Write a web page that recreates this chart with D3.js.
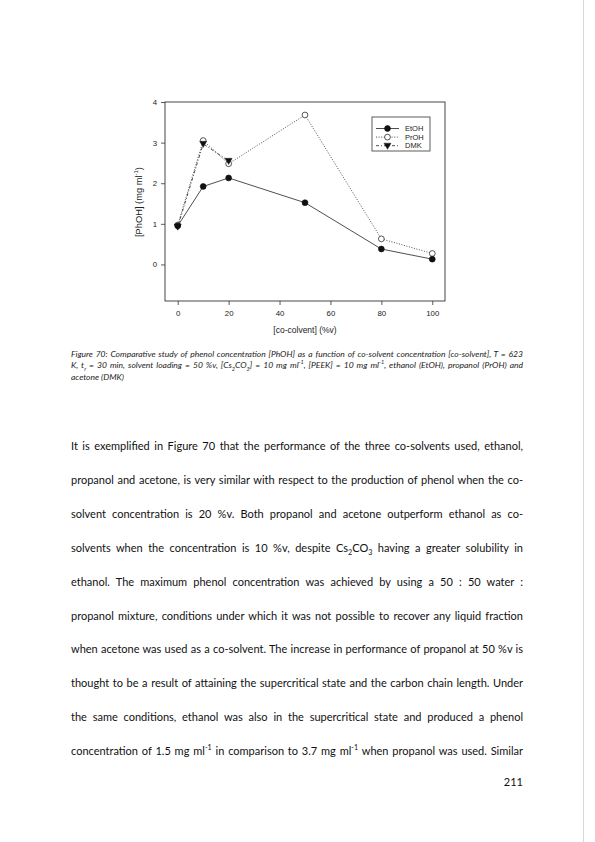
<!DOCTYPE html>
<html>
<head>
<meta charset="utf-8">
<script src="https://cdn.jsdelivr.net/npm/d3@7"></script>
<style>
  body { margin: 0; background: #fff; }
  #page { position: relative; width: 595px; height: 842px; overflow: hidden; }
  #page svg { position: absolute; left: 0; top: 0; }
  .line { position: absolute; left: 71px; width: 452px; font-family: Lato, "Open Sans", sans-serif;
          font-size: 11px; color: #111; text-align: justify; text-align-last: justify; white-space: nowrap; }
  .cap { position: absolute; left: 71px; width: 452px; font-family: Lato, sans-serif; font-style: italic;
         font-size: 8.5px; color: #222; text-align: justify; text-align-last: justify; white-space: nowrap; }
  .cap.last { text-align-last: left; }
  sup, sub { font-size: 65%; line-height: 0; }
</style>
</head>
<body>
<div id="page"></div>
<script>
// values
const coSolvent = [0, 10, 20, 50, 80, 100];
const etoh = [0.95, 1.92, 2.13, 1.52, 0.38, 0.13];
const proh = [0.97, 3.05, 2.48, 3.68, 0.63, 0.27];
const dmkCoSolvent = [0, 10, 20];
const dmk = [0.93, 2.97, 2.55];
const seriesNames = ["EtOH", "PrOH", "DMK"];
const xTicks = [0, 20, 40, 60, 80, 100];
const yTicks = [0, 1, 2, 3, 4];

const captionLines = [
  "Figure 70: Comparative study of phenol concentration [PhOH] as a function of co-solvent concentration [co-solvent], T = 623",
  "K, t<sub>r</sub> = 30 min, solvent loading = 50 %v, [Cs<sub>2</sub>CO<sub>3</sub>] = 10 mg ml<sup>-1</sup>, [PEEK] = 10 mg ml<sup>-1</sup>, ethanol (EtOH), propanol (PrOH) and",
  "acetone (DMK)"
];
const bodyLines = [
  "It is exemplified in Figure 70 that the performance of the three co-solvents used, ethanol,",
  "propanol and acetone, is very similar with respect to the production of phenol when the co-",
  "solvent concentration is 20 %v. Both propanol and acetone outperform ethanol as co-",
  "solvents when the concentration is 10 %v, despite Cs<sub>2</sub>CO<sub>3</sub> having a greater solubility in",
  "ethanol. The maximum phenol concentration was achieved by using a 50 : 50 water :",
  "propanol mixture, conditions under which it was not possible to recover any liquid fraction",
  "when acetone was used as a co-solvent. The increase in performance of propanol at 50 %v is",
  "thought to be a result of attaining the supercritical state and the carbon chain length. Under",
  "the same conditions, ethanol was also in the supercritical state and produced a phenol",
  "concentration of 1.5 mg ml<sup>-1</sup> in comparison to 3.7 mg ml<sup>-1</sup> when propanol was used. Similar"
];

const page = d3.select("#page");
const svg = page.append("svg").attr("width", 595).attr("height", 842);

// page edge
svg.append("line").attr("x1", 583.5).attr("x2", 583.5).attr("y1", 0).attr("y2", 842)
  .attr("stroke", "#d8d8d8").attr("stroke-width", 1);

const plot = { left: 165, top: 102, right: 445, bottom: 301 };
const x = d3.scaleLinear().domain([-5, 105]).range([plot.left, plot.right]);
const y = d3.scaleLinear().domain([-0.9, 4]).range([plot.bottom, plot.top]);

const chart = svg.append("g").style("font-family", "'Liberation Sans', Arial, sans-serif");

chart.append("g")
  .attr("transform", "translate(0," + plot.bottom + ")")
  .call(d3.axisBottom(x).tickValues(xTicks).tickFormat(d3.format("d")).tickSize(4).tickSizeOuter(0).tickPadding(5))
  .call(g => g.select(".domain").remove())
  .call(g => g.selectAll("text").attr("font-size", 7.8).attr("fill", "#222").attr("font-family", null));

chart.append("g")
  .attr("transform", "translate(" + plot.left + ",0)")
  .call(d3.axisLeft(y).tickValues(yTicks).tickFormat(d3.format("d")).tickSize(4).tickSizeOuter(0).tickPadding(4))
  .call(g => g.select(".domain").remove())
  .call(g => g.selectAll("text").attr("font-size", 7.8).attr("fill", "#222").attr("font-family", null));

chart.selectAll(".tick line").attr("stroke", "#333").attr("stroke-width", 0.8);

chart.append("rect")
  .attr("x", plot.left).attr("y", plot.top)
  .attr("width", plot.right - plot.left).attr("height", plot.bottom - plot.top)
  .attr("fill", "none").attr("stroke", "#333").attr("stroke-width", 0.9);

const styles = {
  EtOH: { dash: null, marker: "circle", fill: "#111" },
  PrOH: { dash: "1,1.6", marker: "circle", fill: "#fff" },
  DMK: { dash: "3,2,1,2", marker: "triangle", fill: "#111" }
};

const series = [
  { name: "PrOH", points: coSolvent.map((c, i) => [c, proh[i]]) },
  { name: "DMK", points: dmkCoSolvent.map((c, i) => [c, dmk[i]]) },
  { name: "EtOH", points: coSolvent.map((c, i) => [c, etoh[i]]) }
];

const line = d3.line().x(d => x(d[0])).y(d => y(d[1]));
const triangle = d3.symbol().type(d3.symbolTriangle).size(22);

function drawMarker(g, name, cx, cy) {
  const s = styles[name];
  if (s.marker === "circle") {
    g.append("circle").attr("cx", cx).attr("cy", cy).attr("r", 2.9)
      .attr("fill", s.fill).attr("stroke", "#111").attr("stroke-width", 0.7);
  } else {
    g.append("path").attr("d", triangle)
      .attr("transform", "translate(" + cx + "," + (cy - 0.5) + ") rotate(180)")
      .attr("fill", s.fill).attr("stroke", "#111").attr("stroke-width", 0.4);
  }
}

series.forEach(sr => {
  const s = styles[sr.name];
  chart.append("path")
    .datum(sr.points)
    .attr("fill", "none")
    .attr("stroke", "#222")
    .attr("stroke-width", 0.8)
    .attr("stroke-dasharray", s.dash)
    .attr("d", line);
});
series.forEach(sr => {
  const g = chart.append("g");
  sr.points.forEach(p => drawMarker(g, sr.name, x(p[0]), y(p[1])));
});

// legend
const legend = chart.append("g");
legend.append("rect").attr("x", 372).attr("y", 117).attr("width", 58).attr("height", 34)
  .attr("fill", "#fff").attr("stroke", "#333").attr("stroke-width", 0.8);
seriesNames.forEach((name, i) => {
  const ly = 128.5 + i * 8.6;
  legend.append("line").attr("x1", 376).attr("x2", 399).attr("y1", ly).attr("y2", ly)
    .attr("stroke", "#222").attr("stroke-width", 0.8).attr("stroke-dasharray", styles[name].dash);
  drawMarker(legend, name, 387.5, ly);
  legend.append("text").attr("x", 405).attr("y", ly + 2.7).attr("font-size", 7.5).attr("fill", "#222").text(name);
});

// axis titles
chart.append("text").attr("x", 305).attr("y", 333).attr("text-anchor", "middle")
  .attr("font-size", 8.5).attr("fill", "#222").text("[co-colvent] (%v)");
const yl = chart.append("text").attr("transform", "translate(142,202) rotate(-90)")
  .attr("text-anchor", "middle").attr("font-size", 9.3).attr("fill", "#222");
yl.append("tspan").text("[PhOH] (mg ml");
yl.append("tspan").attr("font-size", 6).attr("dy", -4).text("-1");
yl.append("tspan").attr("dy", 4).text(")");

// caption and body text
captionLines.forEach((t, i) => {
  page.append("div").attr("class", "cap" + (i === captionLines.length - 1 ? " last" : ""))
    .style("top", (349 + i * 11.3) + "px").html(t);
});
bodyLines.forEach((t, i) => {
  page.append("div").attr("class", "line").style("top", (439 + i * 33.9) + "px").html(t);
});
page.append("div").attr("class", "line").style("top", "775px").style("text-align", "right")
  .style("text-align-last", "right").text("211");
</script>
</body>
</html>
